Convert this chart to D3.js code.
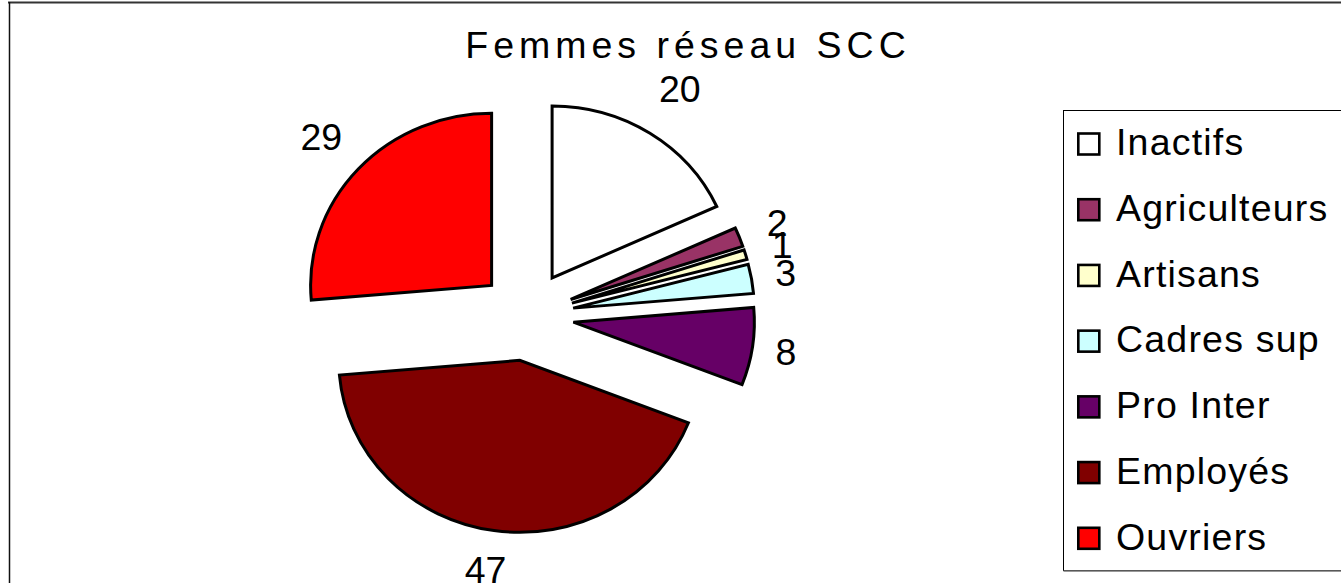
<!DOCTYPE html>
<html>
<head>
<meta charset="utf-8">
<script src="https://cdn.jsdelivr.net/npm/d3@7"></script>
<style>
  html, body { margin: 0; padding: 0; background: #fff; }
  svg { display: block; font-family: "Liberation Sans", Arial, sans-serif; }
</style>
</head>
<body>
<svg id="chart" width="1341" height="583"></svg>
<script>
const title = "Femmes réseau SCC";
const categories = ["Inactifs", "Agriculteurs", "Artisans", "Cadres sup", "Pro Inter", "Employés", "Ouvriers"];
const values = [20, 2, 1, 3, 8, 47, 29];
const colors = ["#ffffff", "#993366", "#ffffcc", "#ccffff", "#660066", "#800000", "#ff0000"];

const W = 1341, H = 583;
const svg = d3.select("#chart");

// frame remnants
svg.append("line").attr("x1", 8).attr("x2", W).attr("y1", 2.5).attr("y2", 2.5)
  .attr("stroke", "#333").attr("stroke-width", 2);
svg.append("line").attr("x1", 9.5).attr("x2", 9.5).attr("y1", 2).attr("y2", H)
  .attr("stroke", "#111").attr("stroke-width", 1.5);

// title
svg.append("text").attr("x", 688).attr("y", 57.5)
  .attr("text-anchor", "middle").attr("font-size", 37.5)
  .attr("letter-spacing", "5px").attr("fill", "#000").text(title);

// pie
const cx = 526.5, cy = 315.8, r = 172, sx = 181 / 172, explode = 45;
const pie = d3.pie().sort(null).value(d => d);
const arcs = pie(values);
const arc = d3.arc().innerRadius(0).outerRadius(r);

const g = svg.append("g");
const labels = svg.append("g");
arcs.forEach((a, i) => {
  const m = (a.startAngle + a.endAngle) / 2;
  const vx = cx + explode * Math.sin(m) * sx;
  const vy = cy - explode * Math.cos(m);
  g.append("g")
    .attr("transform", `translate(${vx},${vy}) scale(${sx},1)`)
    .append("path")
    .attr("d", arc(a))
    .attr("fill", colors[i])
    .attr("stroke", "#000")
    .attr("stroke-width", 3)
    .attr("stroke-linejoin", "miter")
    .attr("vector-effect", "non-scaling-stroke");

  // value label, outside end, kept inside the picture
  const dist = 245 + 29 * Math.abs(Math.cos(m));
  const lx = cx + Math.sin(m) * dist * sx;
  let baseline = cy - Math.cos(m) * dist + 13.3;
  baseline = Math.min(baseline, H);
  labels.append("text").attr("font-size", 37.5).attr("fill", "#000")
    .attr("text-anchor", "middle")
    .attr("x", lx).attr("y", baseline)
    .text(values[i]);
});

// legend
const legX = 1063.5, legTop = 110.5, legBottom = 570.5;
svg.append("rect").attr("x", legX).attr("y", legTop)
  .attr("width", W - legX + 10).attr("height", legBottom - legTop)
  .attr("fill", "#fff").attr("stroke", "#000").attr("stroke-width", 1);
svg.append("line").attr("x1", legX).attr("x2", W).attr("y1", legBottom + 0.5).attr("y2", legBottom + 0.5)
  .attr("stroke", "#777").attr("stroke-width", 1.5);

const ly = d3.scalePoint().domain(categories).range([144, 538.3]);
const leg = svg.append("g");
categories.forEach((c, i) => {
  const y = ly(c);
  leg.append("rect").attr("x", 1078.3).attr("y", y - 10.5)
    .attr("width", 21).attr("height", 21)
    .attr("fill", colors[i]).attr("stroke", "#000").attr("stroke-width", 2.6);
  leg.append("text").attr("x", 1116).attr("y", y + 11.3)
    .attr("font-size", 37.5).attr("letter-spacing", "1.2px").attr("fill", "#000").text(c);
});
</script>
</body>
</html>
